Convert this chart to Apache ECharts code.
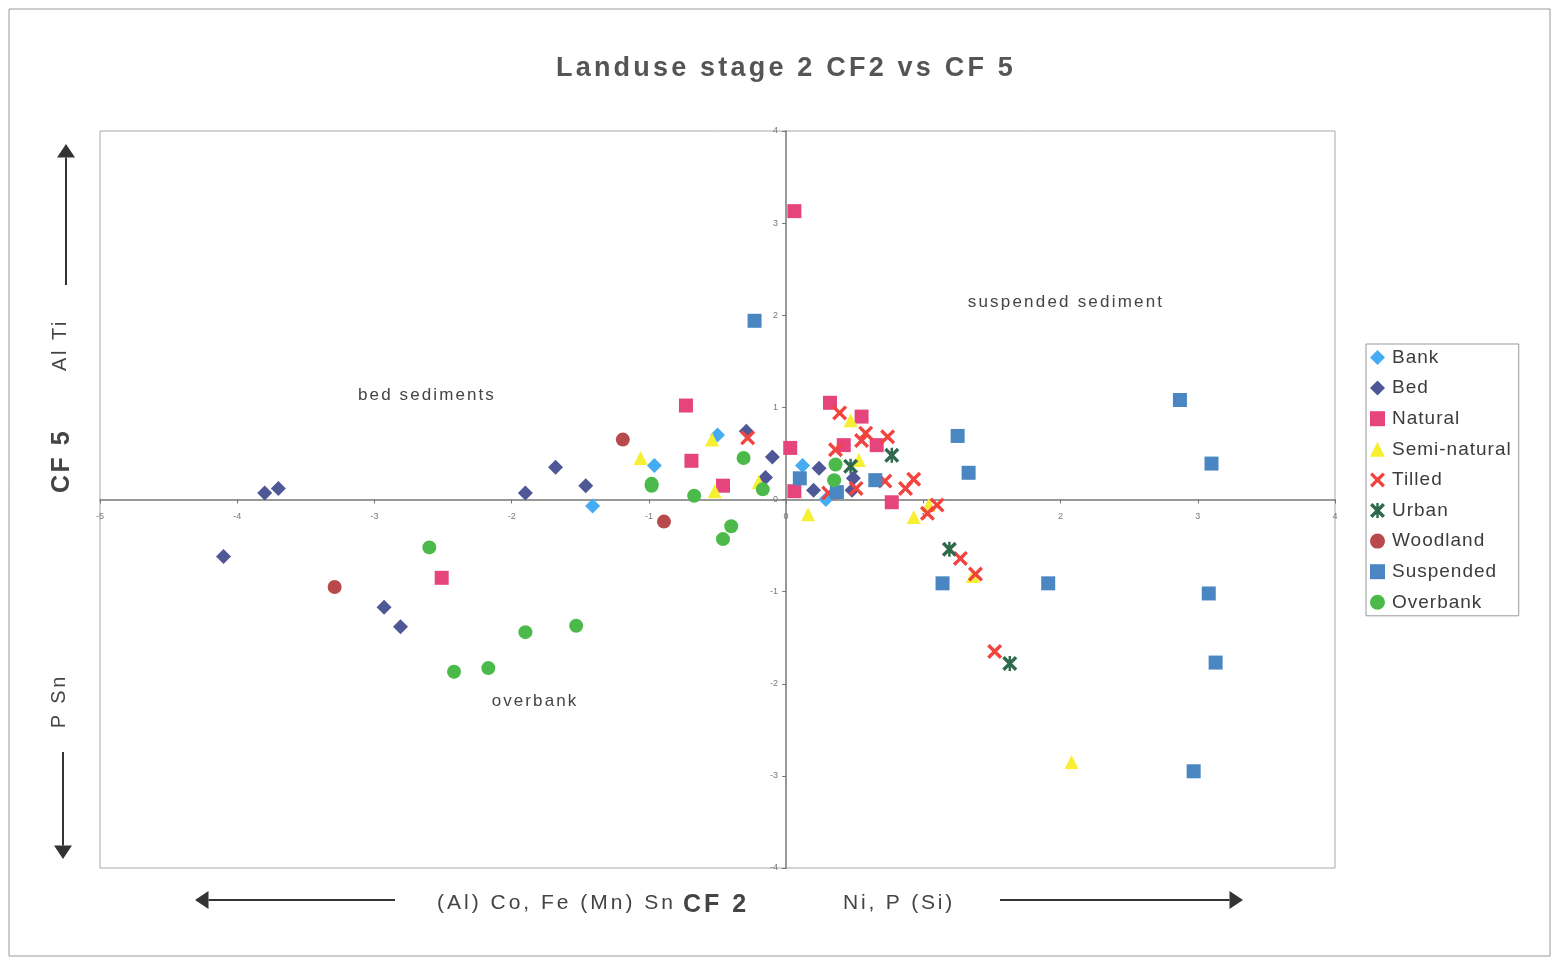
<!DOCTYPE html>
<html>
<head>
<meta charset="utf-8">
<title>Landuse stage 2 CF2 vs CF 5</title>
<script src="https://cdn.jsdelivr.net/npm/echarts@6/dist/echarts.min.js"></script>
<style>
  html, body { margin: 0; padding: 0; background: #fff; }
  #chart { width: 1553px; height: 961px; }
</style>
</head>
<body>
<div id="chart"></div>
<script>
// Factor scores (CF 2, CF 5) for each sample group
const bank = [[-1.41, -0.07], [-0.96, 0.37], [-0.50, 0.70], [0.12, 0.37], [0.29, 0.00]];
const bed = [[-4.10, -0.62], [-3.80, 0.07], [-3.70, 0.12], [-2.93, -1.17], [-2.81, -1.38],
  [-1.90, 0.07], [-1.68, 0.35], [-1.46, 0.15], [-0.29, 0.74], [-0.10, 0.46], [-0.15, 0.24],
  [0.20, 0.10], [0.24, 0.34], [0.49, 0.23], [0.48, 0.10]];
const natural = [[0.06, 3.13], [-0.73, 1.02], [0.32, 1.05], [0.55, 0.90], [0.03, 0.56],
  [-0.69, 0.42], [0.42, 0.59], [0.66, 0.59], [-0.46, 0.15], [0.06, 0.09], [0.77, -0.03],
  [-2.51, -0.85]];
const seminatural = [[-1.06, 0.45], [-0.54, 0.65], [-0.52, 0.09], [-0.20, 0.19], [0.16, -0.16],
  [0.47, 0.86], [0.53, 0.43], [0.93, -0.19], [1.04, -0.06], [1.36, -0.83], [2.08, -2.85]];
const tilled = [[-0.28, 0.67], [0.39, 0.94], [0.58, 0.72], [0.55, 0.64], [0.74, 0.68],
  [0.36, 0.54], [0.51, 0.12], [0.31, 0.07], [0.72, 0.20], [0.87, 0.12], [0.93, 0.22],
  [1.10, -0.06], [1.03, -0.15], [1.27, -0.64], [1.38, -0.81], [1.52, -1.65]];
const urban = [[0.47, 0.36], [0.77, 0.48], [1.19, -0.54], [1.63, -1.78]];
const woodland = [[-1.19, 0.65], [-0.89, -0.24], [-3.29, -0.95]];
const suspended = [[-0.23, 1.94], [2.87, 1.08], [1.25, 0.69], [1.33, 0.29], [3.10, 0.39],
  [0.10, 0.23], [0.65, 0.21], [0.37, 0.08], [1.14, -0.91], [1.91, -0.91], [3.08, -1.02],
  [3.13, -1.77], [2.97, -2.95]];
const overbank = [[-2.60, -0.52], [-1.90, -1.44], [-1.53, -1.37], [-2.17, -1.83], [-2.42, -1.87],
  [-0.98, 0.17], [-0.98, 0.15], [-0.67, 0.04], [-0.31, 0.45], [-0.40, -0.29], [-0.46, -0.43],
  [-0.17, 0.11], [0.36, 0.38], [0.35, 0.21]];

const groupNames = ['Bank', 'Bed', 'Natural', 'Semi-natural', 'Tilled', 'Urban', 'Woodland', 'Suspended', 'Overbank'];
const groupData = [bank, bed, natural, seminatural, tilled, urban, woodland, suspended, overbank];

// Axis ranges
const xRange = [-5, 4];
const yRange = [-4, 4];

const TITLE = 'Landuse stage 2 CF2 vs CF 5';

// Marker glyphs
const crossPath = 'path://M0,1.6 L1.6,0 L5,3.4 L8.4,0 L10,1.6 L6.6,5 L10,8.4 L8.4,10 L5,6.6 L1.6,10 L0,8.4 L3.4,5 Z';
const starPath = 'path://M0,1.6 L1.6,0 L5,3.4 L8.4,0 L10,1.6 L6.6,5 L10,8.4 L8.4,10 L5,6.6 L1.6,10 L0,8.4 L3.4,5 Z M4.2,0 L5.8,0 L5.8,10 L4.2,10 Z';
const groupStyle = [
  { symbol: 'diamond',  size: 15, color: '#45abf2' },
  { symbol: 'diamond',  size: 15, color: '#4f5896' },
  { symbol: 'rect',     size: 14, color: '#e6447d' },
  { symbol: 'triangle', size: 14, color: '#f7f032' },
  { symbol: crossPath,  size: 15, color: '#f2443f' },
  { symbol: starPath,   size: 15, color: '#2f6a4c' },
  { symbol: 'circle',   size: 14, color: '#b84a4c' },
  { symbol: 'rect',     size: 14, color: '#4a87c2' },
  { symbol: 'circle',   size: 14, color: '#4cba4a' }
];

// Tracked (letter-spaced) lettering for the headings and annotations
const tracking = {
  'Landuse stage 2 CF2 vs CF 5': 3.2,
  'bed sediments': 2.1, 'suspended sediment': 2.2, 'overbank': 2.1,
  'CF 5': 2.5, 'Al Ti': 2.5, 'P Sn': 2.8,
  '(Al) Co, Fe (Mn) Sn': 3, 'CF 2': 3, 'Ni, P (Si)': 2.8
};
groupNames.forEach(function (n) { tracking[n] = 1; });
(function () {
  const proto = CanvasRenderingContext2D.prototype;
  const baseFill = proto.fillText;
  proto.fillText = function (text, x, y, maxWidth) {
    const sp = Object.prototype.hasOwnProperty.call(tracking, text) ? tracking[text] : 0;
    const args = maxWidth === undefined ? [text, x, y] : [text, x, y, maxWidth];
    if (sp && 'letterSpacing' in this) {
      this.letterSpacing = sp + 'px';
      baseFill.apply(this, args);
      this.letterSpacing = '0px';
    } else {
      if ('letterSpacing' in this && this.letterSpacing !== '0px') this.letterSpacing = '0px';
      baseFill.apply(this, args);
    }
  };
})();

const FONT = '"Liberation Sans", Arial, sans-serif';
const GRID = { left: 100, top: 131, width: 1235, height: 737 };
// axes cross at the origin, so shift each axis from the grid edge to zero
const xAxisShift = -GRID.height * (yRange[1] - 0) / (yRange[1] - yRange[0]);
const yAxisShift = -GRID.width * (0 - xRange[0]) / (xRange[1] - xRange[0]);

const chart = echarts.init(document.getElementById('chart'), null, { renderer: 'canvas' });

function arrow(x1, y1, x2, y2, head) {
  // line from (x1,y1) to (x2,y2) with a filled head at (x2,y2)
  const dx = x2 - x1, dy = y2 - y1, len = Math.hypot(dx, dy);
  const ux = dx / len, uy = dy / len;
  const bx = x2 - ux * head * 1.5, by = y2 - uy * head * 1.5;
  return [
    { type: 'line', shape: { x1: x1, y1: y1, x2: bx, y2: by }, style: { stroke: '#333', lineWidth: 2 } },
    { type: 'polygon', shape: { points: [[x2, y2], [bx - uy * head, by + ux * head], [bx + uy * head, by - ux * head]] },
      style: { fill: '#333' } }
  ];
}

function label(text, x, y, font, align, rot) {
  return { type: 'text', x: x, y: y, rotation: rot || 0,
    style: { text: text, font: font, fill: '#444', align: align || 'center', verticalAlign: 'middle' } };
}

const graphics = [
  { type: 'rect', shape: { x: 9, y: 9, width: 1541, height: 947 }, style: { fill: 'none', stroke: '#9a9a9a', lineWidth: 1 }, silent: true },
  label('bed sediments', 427, 395, '17px ' + FONT),
  label('suspended sediment', 1066, 302, '17px ' + FONT),
  label('overbank', 535, 701, '17px ' + FONT),
  label('CF 5', 62, 461, 'bold 25px ' + FONT, 'center', Math.PI / 2),
  label('Al Ti', 60, 345, '20px ' + FONT, 'center', Math.PI / 2),
  label('P Sn', 59, 701, '20px ' + FONT, 'center', Math.PI / 2),
  label('(Al) Co, Fe (Mn) Sn', 676, 903, '21px ' + FONT, 'right'),
  label('CF 2', 716, 905, 'bold 25px ' + FONT, 'center'),
  label('Ni, P (Si)', 843, 903, '21px ' + FONT, 'left')
].concat(arrow(66, 285, 66, 144, 9), arrow(63, 752, 63, 859, 9), arrow(395, 900, 195, 900, 9), arrow(1000, 900, 1243, 900, 9));

chart.setOption({
  animation: false,
  backgroundColor: '#fff',
  title: {
    text: TITLE,
    left: 781, top: 50, textAlign: 'center',
    textStyle: { fontFamily: FONT, fontSize: 27, fontWeight: 'bold', color: '#555' }
  },
  legend: {
    orient: 'vertical', left: 1366, top: 344,
    padding: [4, 19, 4, 4], itemGap: 11.6, itemWidth: 15, itemHeight: 15,
    borderColor: '#999', borderWidth: 1,
    textStyle: { fontFamily: FONT, fontSize: 19, color: '#3c3c3c', padding: [0, 0, 0, 2] },
    data: groupNames
  },
  grid: { left: GRID.left, top: GRID.top, width: GRID.width, height: GRID.height,
    show: true, borderColor: '#a8a8a8', borderWidth: 1, containLabel: false },
  xAxis: {
    type: 'value', min: xRange[0], max: xRange[1], interval: 1,
    position: 'bottom', offset: xAxisShift,
    axisLine: { onZero: false, lineStyle: { color: '#777', width: 1.5 } },
    axisTick: { show: true, length: 4, lineStyle: { color: '#777' } },
    axisLabel: { fontFamily: FONT, fontSize: 9, color: '#777', margin: 13, showMinLabel: true, showMaxLabel: true },
    splitLine: { show: false }
  },
  yAxis: {
    type: 'value', min: yRange[0], max: yRange[1], interval: 1,
    position: 'left', offset: yAxisShift,
    axisLine: { onZero: false, lineStyle: { color: '#777', width: 1.5 } },
    axisTick: { show: true, length: 4, lineStyle: { color: '#777' } },
    axisLabel: { fontFamily: FONT, fontSize: 9, color: '#777', margin: 8, showMinLabel: true, showMaxLabel: true },
    splitLine: { show: false }
  },
  series: groupNames.map(function (name, i) {
    return {
      name: name, type: 'scatter', data: groupData[i],
      symbol: groupStyle[i].symbol, symbolSize: groupStyle[i].size,
      itemStyle: { color: groupStyle[i].color, opacity: 1 }
    };
  }),
  graphic: graphics
});
</script>
</body>
</html>
